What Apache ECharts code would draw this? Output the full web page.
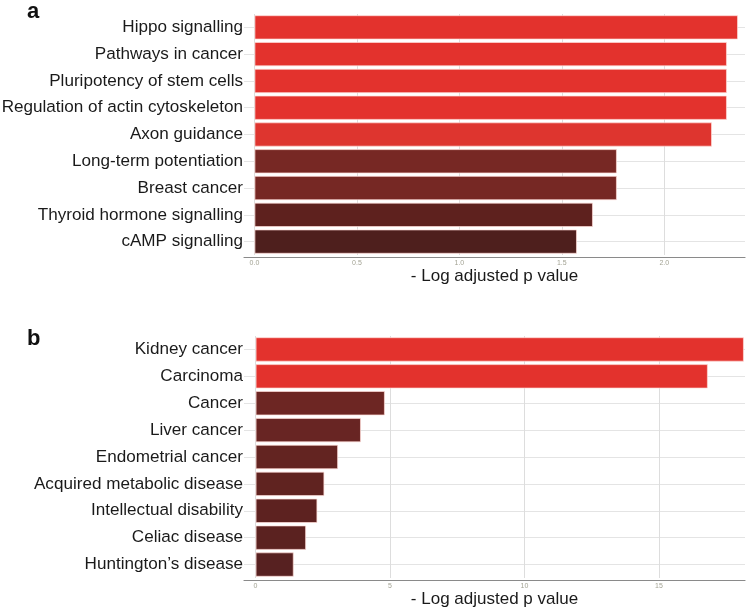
<!DOCTYPE html>
<html>
<head>
<meta charset="utf-8">
<script src="https://cdn.jsdelivr.net/npm/echarts@6/dist/echarts.min.js"></script>
<style>html,body{margin:0;padding:0;background:#fff}#c{width:750px;height:609px}</style>
</head>
<body>
<div id="c"></div>
<script>
const categoriesA = ['Hippo signalling','Pathways in cancer','Pluripotency of stem cells','Regulation of actin cytoskeleton','Axon guidance','Long-term potentiation','Breast cancer','Thyroid hormone signalling','cAMP signalling'];
const valuesA = [2.36, 2.306, 2.306, 2.306, 2.233, 1.769, 1.769, 1.652, 1.574];
const colorsA = ['#e3322d','#e3322d','#e3322d','#e3322d','#de352f','#772824','#762824','#5e211e','#4e1f1d'];
const ticksA = [0, 0.5, 1.0, 1.5, 2.0];

const categoriesB = ['Kidney cancer','Carcinoma','Cancer','Liver cancer','Endometrial cancer','Acquired metabolic disease','Intellectual disability','Celiac disease','Huntington\u2019s disease'];
const valuesB = [18.16, 16.82, 4.81, 3.92, 3.07, 2.56, 2.30, 1.88, 1.42];
const colorsB = ['#e3322d','#e3322d','#6d2623','#682523','#632421','#602320','#5d2220','#5b2220','#572121'];
const ticksB = [0, 5, 10, 15];

const axisTitle = '- Log adjusted p value';
const font = 'Liberation Sans, Arial, sans-serif';

function xAxisCfg(gridIndex, min, max, ticks, fmt, gap) {
  return {
    type: 'value', gridIndex, min, max, offset: 2,
    name: axisTitle, nameLocation: 'middle', nameGap: gap,
    nameTextStyle: { fontFamily: font, fontSize: 17, color: '#1a1a1a' },
    axisLine: { show: true, lineStyle: { color: '#8a8a8a', width: 1.2 } },
    axisTick: { show: false, customValues: ticks },
    axisLabel: { customValues: ticks, formatter: fmt, fontSize: 7, color: '#a3a394', margin: 3, fontFamily: font },
    splitLine: { show: true, lineStyle: { color: '#dddddd', width: 1 } }
  };
}
function yAxisCfg(gridIndex, cats) {
  return {
    type: 'category', gridIndex, data: cats, inverse: true,
    axisLine: { show: false },
    axisTick: { show: false },
    axisLabel: { fontFamily: font, fontSize: 17.1, color: '#1a1a1a', margin: 1 },
    splitLine: { show: true, alignWithLabel: true, lineStyle: { color: '#e4e4e4', width: 1 } }
  };
}

const chart = echarts.init(document.getElementById('c'), null, { renderer: 'canvas' });
chart.setOption({
  animation: false,
  backgroundColor: '#ffffff',
  title: [
    { text: 'a', left: 22, top: -4, textStyle: { fontFamily: font, fontSize: 22, fontWeight: 'bold', color: '#111' } },
    { text: 'b', left: 22, top: 323, textStyle: { fontFamily: font, fontSize: 22, fontWeight: 'bold', color: '#111' } }
  ],
  grid: [
    { left: 244, right: 5, top: 14, height: 241, outerBoundsMode: 'none', containLabel: false },
    { left: 244, right: 5, top: 336, height: 242, outerBoundsMode: 'none', containLabel: false }
  ],
  xAxis: [
    xAxisCfg(0, -0.051, 2.394, ticksA, v => v.toFixed(1), 5),
    xAxisCfg(1, -0.43, 18.2, ticksB, v => String(v), 8)
  ],
  yAxis: [ yAxisCfg(0, categoriesA), yAxisCfg(1, categoriesB) ],
  series: [
    {
      type: 'bar', xAxisIndex: 0, yAxisIndex: 0, barCategoryGap: '9%',
      data: valuesA.map((v, i) => ({ value: v, itemStyle: { color: colorsA[i] } })),
      itemStyle: { borderColor: 'rgba(255,220,215,0.7)', borderWidth: 1 }
    },
    {
      type: 'bar', xAxisIndex: 1, yAxisIndex: 1, barCategoryGap: '9%',
      data: valuesB.map((v, i) => ({ value: v, itemStyle: { color: colorsB[i] } })),
      itemStyle: { borderColor: 'rgba(255,220,215,0.7)', borderWidth: 1 }
    }
  ]
});
</script>
</body>
</html>
